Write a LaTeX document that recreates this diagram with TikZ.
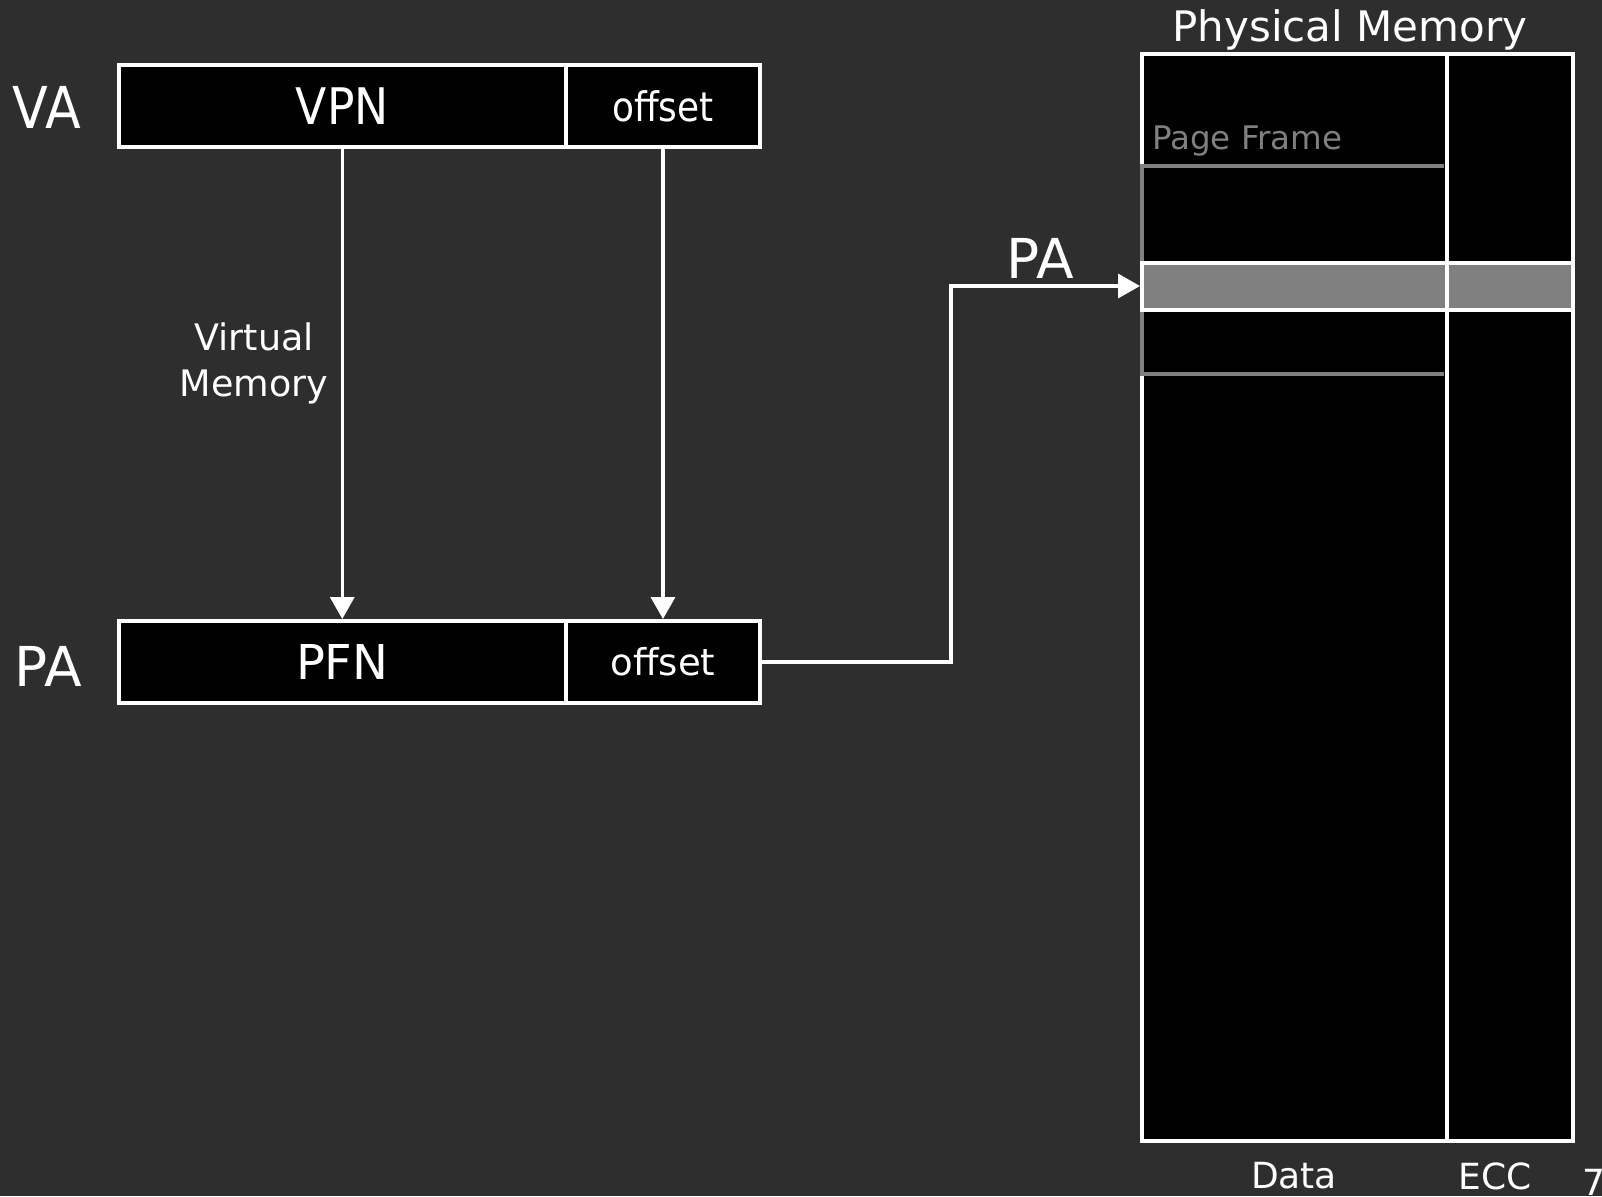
\documentclass[tikz,border=0pt]{standalone}
\usepackage{fontspec}
\setmainfont{DejaVu Sans}
\usetikzlibrary{arrows.meta}
\definecolor{bg}{RGB}{46,46,46}
\definecolor{framegray}{RGB}{128,128,128}
\newcommand{\fs}[1]{\fontsize{#1}{#1}\selectfont}
\tikzset{
  cell/.style={draw=white, fill=black, line width=4pt, text=white, inner sep=0pt, minimum height=82pt},
  lbl/.style={text=white, inner sep=0pt},
  conn/.style={draw=white, line width=3.5pt},
  arr/.style={conn, -{Triangle[width=24pt,length=22pt]}},
}
\begin{document}
\begin{tikzpicture}[x=1pt,y=-1pt]
\fill[bg] (0,0) rectangle (1602,1196);
\useasboundingbox (0,0) rectangle (1602,1196);

% Virtual address
\node[cell, minimum width=447.5pt] (vpn) at (342.25,106) {\fs{48}\scalebox{0.95}[1.05]{VPN}};
\node[cell, minimum width=194pt] (voff) at (663,106) {\fs{37}\scalebox{0.97}[1.1]{offset}};
\node[lbl] (va) at (47,107) {\fs{55}\scalebox{0.95}[1.05]{VA}};

% Physical address
\node[cell, minimum width=447.5pt] (pfn) at (342.25,662) {\fs{48}PFN};
\node[cell, minimum width=194pt] (poff) at (663,662) {\fs{37}offset};
\node[lbl] (pa) at (48,666) {\fs{55}PA};

\draw[arr] (vpn.south) -- (pfn.north);
\draw[arr] (voff.south) -- (poff.north);
\node[lbl, align=center, font=\fontsize{36.5}{46}\selectfont] (vm) at (254,363) {Virtual\\Memory};

% Physical memory
\node[draw=white, fill=black, line width=4pt, minimum width=431pt, minimum height=1087pt, inner sep=0pt] (mem) at (1357.5,597.5) {};
\coordinate (divtop) at (1447,54);
\coordinate (divbot) at (1447,1141);
\draw[white, line width=4pt] (divtop) -- (divbot);
\draw[framegray, line width=4pt] (1444,165.5) -- (1142,165.5) -- (1142,374) -- (1444,374);
\node[text=framegray, anchor=west, inner sep=0pt] (pf) at (1152,141) {\fs{32.5}Page Frame};
\node[draw=white, fill=framegray, line width=4pt, minimum width=431pt, minimum height=47pt, inner sep=0pt] (row) at (1357.5,286) {};
\draw[white, line width=4pt] (row.north -| divtop) -- (row.south -| divtop);

\node[lbl] (pm) at (1350,30) {\fs{42}Physical Memory};
\node[lbl] (data) at (1294,1176) {\fs{36}Data};
\node[lbl] (ecc) at (1495,1176) {\fs{36}ECC};
\node[lbl, anchor=west] (pg) at (1582,1182) {\fs{36}7};

% PA connector
\coordinate (turn) at (951,286);
\draw[arr] (poff.east) -| (turn) -- (row.west);
\node[lbl] (pa2) at (1040,258) {\fs{55}PA};
\end{tikzpicture}
\end{document}
